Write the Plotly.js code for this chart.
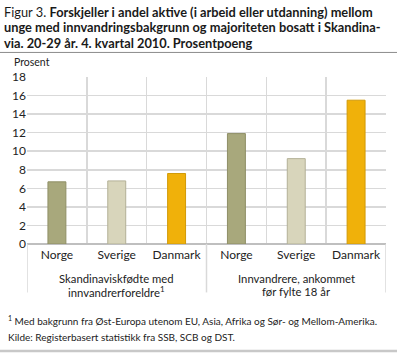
<!DOCTYPE html>
<html><head><meta charset="utf-8">
<script src="https://cdn.plot.ly/plotly-3.0.1.min.js"></script>
<style>html,body{margin:0;padding:0;background:#fff}#c{width:397px;height:353px}</style>
</head><body><div id="c"></div>
<script>
const countries = ["Norge", "Sverige", "Danmark"];
const group1Lines = ["Skandinaviskfødte med", "innvandrerforeldre<sup>1</sup>"];
const group2Lines = ["Innvandrere, ankommet", "før fylte 18 år"];
const values_group1 = [6.7, 6.8, 7.6];
const values_group2 = [11.9, 9.2, 15.5];
const colors = ["#a8a87c", "#d8d5bb", "#f0b10a"];
const lineColors = ["#8f8f66", "#b3b096", "#d19a08"];
const yTicks = [0, 2, 4, 6, 8, 10, 12, 14, 16, 18];
const titleLines = ["Figur 3. <b>Forskjeller i andel aktive (i arbeid eller utdanning) mellom</b>", "<b>unge med innvandringsbakgrunn og majoriteten bosatt i Skandina-</b>", "<b>via. 20-29 år. 4. kvartal 2010. Prosentpoeng</b>"];
const footLines = ["<sup>1</sup> Med bakgrunn fra Øst-Europa utenom EU, Asia, Afrika og Sør- og Mellom-Amerika.", "Kilde: Registerbasert statistikk fra SSB, SCB og DST."];

const FONT = "Lato, 'Liberation Sans', sans-serif";
const allValues = values_group1.concat(values_group2);
const xs = allValues.map((_, i) => i);
const labels = countries.concat(countries);
const barColors = colors.concat(colors);
const barLines = lineColors.concat(lineColors);

const trace = {
  type: "bar", x: xs, y: allValues, width: 0.3,
  marker: {color: barColors, line: {color: barLines, width: 1}},
  hoverinfo: "none"
};

const seps = [-0.5, 2.5, 5.5];
const shapes = seps.map(s => ({type: "line", xref: "x", yref: "paper", x0: s, x1: s, y0: 0, y1: -0.29, line: {color: "#d9d9d9", width: 1.5}}));
shapes.push({type: "line", xref: "paper", yref: "paper", x0: -0.08, x1: 1.04, y0: 1.147, y1: 1.147, line: {color: "#8c8c8c", width: 1}});
shapes.push({type: "line", xref: "paper", yref: "paper", x0: -0.08, x1: 1.04, y0: -0.64, y1: -0.64, line: {color: "#c8c8c8", width: 2.5}});

const annotations = [];
const titleY = [1.392, 1.2983, 1.2047];
titleLines.forEach((t, i) => annotations.push({text: t, xref: "paper", yref: "paper", x: -0.07, y: titleY[i], xanchor: "left", yanchor: "middle", showarrow: false, font: {size: 12.8, color: "#1a1a1a", family: FONT}}));
annotations.push({text: "Prosent", xref: "paper", yref: "paper", x: -0.042, y: 1.088, xanchor: "left", yanchor: "middle", showarrow: false, font: {size: 10.5, color: "#222", family: FONT}});
const groupY = [-0.204, -0.2846];
group1Lines.forEach((t, i) => annotations.push({text: t, xref: "paper", yref: "paper", x: 0.25, y: groupY[i], xanchor: "center", yanchor: "middle", showarrow: false, font: {size: 11.3, color: "#222", family: FONT}}));
group2Lines.forEach((t, i) => annotations.push({text: t, xref: "paper", yref: "paper", x: 0.75, y: groupY[i], xanchor: "center", yanchor: "middle", showarrow: false, font: {size: 11.3, color: "#222", family: FONT}}));
const footY = [-0.458, -0.559];
footLines.forEach((t, i) => annotations.push({text: t, xref: "paper", yref: "paper", x: -0.058, y: footY[i], xanchor: "left", yanchor: "middle", showarrow: false, font: {size: 10, color: "#222", family: FONT}}));

const layout = {
  width: 397, height: 353,
  margin: {l: 27, r: 11, t: 77, b: 109},
  paper_bgcolor: "#fff", plot_bgcolor: "#fff",
  showlegend: false,
  bargap: 0,
  xaxis: {range: [-0.5, 5.5], tickmode: "array", tickvals: xs, ticktext: labels, showgrid: false, zeroline: false, showline: false, ticks: "", ticklabelstandoff: 2, tickfont: {size: 12, color: "#222", family: FONT},
    minor: {tickmode: "linear", tick0: -0.5, dtick: 1, showgrid: true, gridcolor: "#d9d9d9", gridwidth: 1.5, ticks: ""}},
  yaxis: {range: [0, 18], tickmode: "array", tickvals: yTicks, showgrid: true, gridcolor: "#d9d9d9", gridwidth: 1.5, zeroline: true, zerolinecolor: "#bfbfbf", zerolinewidth: 1.5, showline: false, ticks: "", tickfont: {size: 12, color: "#222", family: FONT}},
  shapes: shapes, annotations: annotations
};
Plotly.newPlot("c", [trace], layout, {staticPlot: true, displayModeBar: false});
</script></body></html>
